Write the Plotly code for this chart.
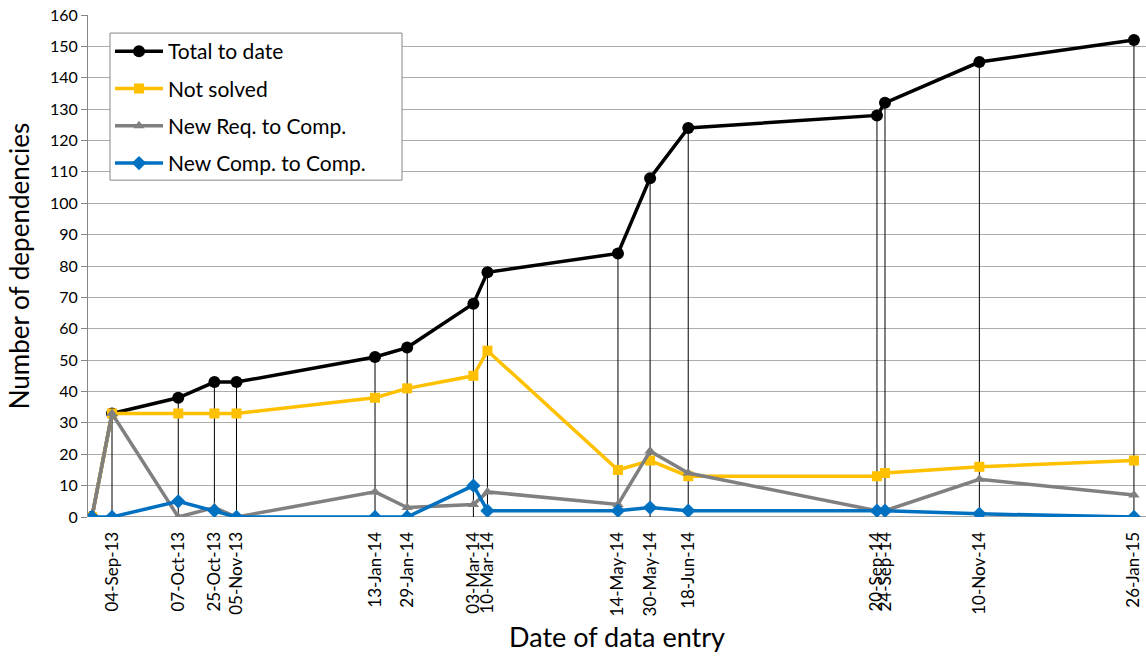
import plotly.graph_objects as go

dates = ["2013-08-25", "2013-09-04", "2013-10-07", "2013-10-25", "2013-11-05",
         "2014-01-13", "2014-01-29", "2014-03-03", "2014-03-10", "2014-05-14",
         "2014-05-30", "2014-06-18", "2014-09-20", "2014-09-24", "2014-11-10",
         "2015-01-26"]
tick_labels = ["", "04-Sep-13", "07-Oct-13", "25-Oct-13", "05-Nov-13",
               "13-Jan-14", "29-Jan-14", "03-Mar-14", "10-Mar-14", "14-May-14",
               "30-May-14", "18-Jun-14", "20-Sep-14", "24-Sep-14", "10-Nov-14",
               "26-Jan-15"]
total_to_date = [0, 33, 38, 43, 43, 51, 54, 68, 78, 84, 108, 124, 128, 132, 145, 152]
not_solved = [0, 33, 33, 33, 33, 38, 41, 45, 53, 15, 18, 13, 13, 14, 16, 18]
new_req_to_comp = [0, 33, 0, 3, 0, 8, 3, 4, 8, 4, 21, 14, 2, 2, 12, 7]
new_comp_to_comp = [0, 0, 5, 2, 0, 0, 0, 10, 2, 2, 3, 2, 2, 2, 1, 0]

FONT = "Lato"

fig = go.Figure()

# drop lines from Total to date down to the axis
dx, dy = [], []
for d, v in zip(dates, total_to_date):
    dx += [d, d, None]
    dy += [0, v, None]
fig.add_trace(go.Scatter(x=dx, y=dy, mode="lines", line=dict(color="black", width=1),
                         showlegend=False, hoverinfo="skip"))

series = [
    ("Total to date", total_to_date, "black", "circle", 12),
    ("Not solved", not_solved, "#FFC000", "square", 10),
    ("New Req. to Comp.", new_req_to_comp, "#808080", "triangle-up", 10),
    ("New Comp. to Comp.", new_comp_to_comp, "#0070C0", "diamond", 11),
]
for name, vals, col, sym, sz in series:
    fig.add_trace(go.Scatter(x=dates, y=vals, name=name, mode="lines+markers",
                             line=dict(color=col, width=3.5),
                             marker=dict(color=col, symbol=sym, size=sz),
                             legendgroup=name))

# legend frame (drawn as a box so it can be as wide as in the reference)
fig.add_shape(type="rect", xref="paper", yref="paper",
              x0=0.0208, x1=0.2968, y0=0.671, y1=0.964,
              line=dict(color="#868686", width=1), fillcolor="white", layer="above")

fig.update_layout(
    width=1146, height=656,
    margin=dict(l=88, r=0, t=15, b=139, autoexpand=False),
    plot_bgcolor="white", paper_bgcolor="white",
    font=dict(family=FONT, color="black", size=16),
    xaxis=dict(
        type="date", automargin=False,
        range=["2013-08-23 01:00", "2015-02-01"],
        tickmode="array", tickvals=dates[1:], ticktext=tick_labels[1:],
        tickangle=-90, tickfont=dict(size=17, family=FONT), ticklabeloverflow="allow",
        showgrid=False, zeroline=False, showline=False,
        ticks="outside", ticklen=7, tickcolor="rgba(0,0,0,0)",
        title=dict(text="Date of data entry", font=dict(size=27, family=FONT), standoff=12),
    ),
    yaxis=dict(
        range=[0, 160], dtick=10, tick0=0, automargin=False,
        showgrid=True, gridcolor="#ACACAC", gridwidth=1,
        zeroline=False, showline=True, linecolor="#868686", linewidth=1,
        ticks="outside", ticklen=6, tickcolor="#868686",
        tickfont=dict(size=16, family=FONT), ticklabeloverflow="allow",
        title=dict(text="Number of dependencies", font=dict(size=26, family=FONT), standoff=12),
    ),
    legend=dict(
        x=0.0208, y=0.968, xanchor="left", yanchor="top",
        borderwidth=0, bgcolor="rgba(0,0,0,0)",
        font=dict(size=21, family=FONT), tracegroupgap=7, itemwidth=48,
    ),
    showlegend=True,
)
fig.add_shape(type="line", xref="paper", yref="y", x0=0, x1=1, y0=0, y1=0,
              line=dict(color="#868686", width=1.5), layer="below")

fig.write_html("out.html", config={"displayModeBar": False},
               post_script="document.body.style.margin='0px';document.body.style.padding='0px';")
